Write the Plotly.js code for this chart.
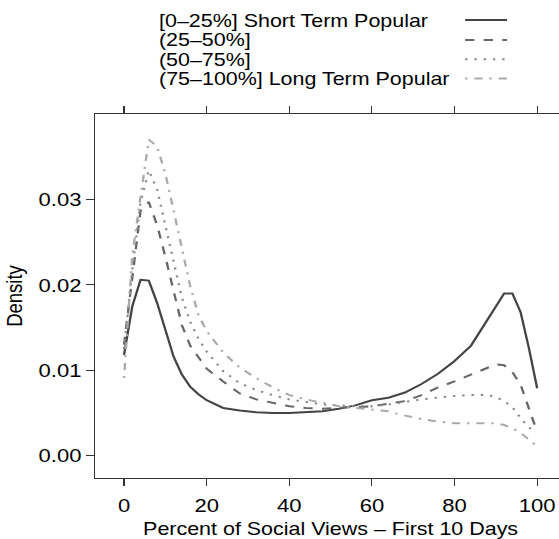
<!DOCTYPE html>
<html>
<head>
<meta charset="utf-8">
<script src="https://cdn.plot.ly/plotly-3.0.1.min.js"></script>
<style>
html,body{margin:0;padding:0;overflow:hidden;background:#fff;}
#chart{width:500px;height:539px;transform:scaleX(1.16);transform-origin:0 0;}
</style>
</head>
<body>
<div id="chart"></div>
<script>
// x grid (Percent of Social Views – First 10 Days)
const xPct = [0,2,4,6,8,10,12,14,16,18,20,24,28,32,36,40,44,48,52,56,60,64,68,72,76,80,84,88,90,92,94,96,98,100];

// Density series
const q1Short = [0.0118,0.0175,0.0206,0.0205,0.0179,0.0146,0.0116,0.0095,0.0081,0.0072,0.0065,0.0056,0.0053,0.0051,0.0050,0.0050,0.0051,0.0052,0.0055,0.0059,0.0065,0.0068,0.0074,0.0084,0.0096,0.0111,0.0129,0.0159,0.0175,0.0190,0.0190,0.0168,0.0126,0.0079];
const q2 = [0.0130,0.0210,0.0287,0.0297,0.0270,0.0233,0.0195,0.0153,0.0129,0.0115,0.0102,0.0087,0.0073,0.0066,0.0062,0.0058,0.0056,0.0055,0.0056,0.0057,0.0058,0.0061,0.0064,0.0071,0.0080,0.0087,0.0095,0.0103,0.0107,0.0106,0.0098,0.0083,0.0056,0.0028];
const q3 = [0.0125,0.0218,0.0297,0.0334,0.0312,0.0269,0.0228,0.0185,0.0157,0.0137,0.0122,0.0099,0.0085,0.0077,0.0071,0.0066,0.0063,0.0060,0.0059,0.0058,0.0058,0.0060,0.0063,0.0066,0.0068,0.0070,0.0071,0.0071,0.0069,0.0064,0.0057,0.0044,0.0033,0.0028];
const q4Long = [0.0091,0.0235,0.0303,0.0370,0.0362,0.0330,0.0287,0.0243,0.0199,0.0165,0.0146,0.0121,0.0103,0.0091,0.0080,0.0071,0.0066,0.0062,0.0058,0.0056,0.0054,0.0052,0.0047,0.0043,0.0040,0.0038,0.0038,0.0038,0.0038,0.0036,0.0032,0.0027,0.0019,0.0011];

const seriesNames = ["[0–25%] Short Term Popular","(25–50%]","(50–75%]","(75–100%] Long Term Popular"];
const seriesColors = ["#444444","#666666","#888888","#aaaaaa"];
const seriesDash = ["solid","8px,8px","2px,6px","2px,6px,7px,6px"];
const seriesValues = [q1Short,q2,q3,q4Long];

const xTicks = [0,20,40,60,80,100];
const yTicks = [0,0.01,0.02,0.03];

const FONT = "Liberation Sans, Arial, Helvetica, sans-serif";
const FS = 19;

const traces = seriesValues.map((v,i)=>({
  type:"scatter", mode:"lines", x:xPct, y:v, name:seriesNames[i],
  line:{color:seriesColors[i], width:2, dash:seriesDash[i]},
  showlegend:false, hoverinfo:"skip"
}));

// manual key (text left, line sample right) above the panel
const rowY = [1.258,1.2035,1.1505,1.0975];
const annotations = seriesNames.map((t,i)=>({
  xref:"paper", yref:"paper", x:0.1305, y:rowY[i], xanchor:"left", yanchor:"middle",
  text:t, showarrow:false, font:{family:FONT,size:18.5,color:"#000"}
}));
const shapes = seriesNames.map((t,i)=>({
  type:"line", xref:"paper", yref:"paper", x0:0.7856, x1:0.8747, y0:rowY[i], y1:rowY[i],
  line:{color:seriesColors[i], width:2, dash:seriesDash[i]}
}));

const layout = {
  width:500, height:539,
  margin:{l:82.4, r:12.2, t:114, b:61},
  paper_bgcolor:"#fff", plot_bgcolor:"#fff",
  font:{family:FONT, size:FS, color:"#000"},
  xaxis:{
    range:[-7,107], tickvals:xTicks, ticks:"outside", ticklen:7, tickwidth:1, tickcolor:"#333",
    showline:true, linecolor:"#333", linewidth:1, mirror:"allticks",
    showgrid:false, zeroline:false, ticklabelstandoff:3,
    tickfont:{family:FONT,size:FS,color:"#000"},
    title:{text:"Percent of Social Views – First 10 Days", font:{family:FONT,size:18.5,color:"#000"}, standoff:7}
  },
  yaxis:{
    range:[-0.0026,0.0400], tickvals:yTicks, tickformat:".2f", ticks:"outside", ticklen:7, tickwidth:1, tickcolor:"#333",
    showline:true, linecolor:"#333", linewidth:1, mirror:"allticks",
    showgrid:false, zeroline:false,
    tickfont:{family:FONT,size:FS,color:"#000"},
    title:{text:"Density", font:{family:FONT,size:18.5,color:"#000"}, standoff:8}
  },
  annotations:annotations,
  shapes:shapes
};

Plotly.newPlot("chart", traces, layout, {staticPlot:true, displayModeBar:false});
</script>
</body>
</html>
